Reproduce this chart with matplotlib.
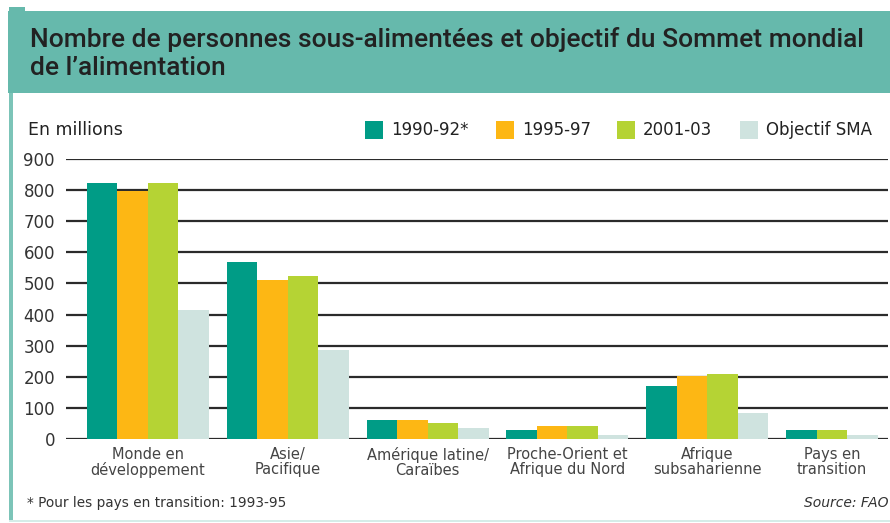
import numpy as np
import matplotlib
matplotlib.use("Agg")
import matplotlib.pyplot as plt
from matplotlib.patches import Rectangle

categories = ["Monde en\ndéveloppement", "Asie/\nPacifique", "Amérique latine/\nCaraïbes",
              "Proche-Orient et\nAfrique du Nord", "Afrique\nsubsaharienne", "Pays en\ntransition"]
series_names = ["1990-92*", "1995-97", "2001-03", "Objectif SMA"]
v_1990 = [822, 570, 61, 29, 170, 28]
v_1995 = [797, 511, 60, 42, 203, np.nan]
v_2001 = [822, 525, 52, 42, 209, 28]
v_sma = [415, 286, 34, 14, 85, 14]
yticks = [0, 100, 200, 300, 400, 500, 600, 700, 800, 900]

colors = ["#009c86", "#fdb714", "#b5d334", "#cfe3df"]
band = "#66b9ac"

plt.rcParams["font.family"] = ["DejaVu Sans"]

W, H = 890, 523
fig = plt.figure(figsize=(W / 100, H / 100), dpi=100)

def fx(px):
    return px / W

def fy(py):
    return 1 - py / H

# frame
fig.patches.append(Rectangle((fx(8), fy(93)), fx(882), (93 - 11) / H, transform=fig.transFigure,
                             facecolor=band, edgecolor="none"))
fig.patches.append(Rectangle((fx(9), fy(11)), fx(16), 4 / H, transform=fig.transFigure,
                             facecolor=band, edgecolor="none"))
fig.patches.append(Rectangle((fx(9), fy(522)), fx(4), (522 - 93) / H, transform=fig.transFigure,
                             facecolor="#7cc4b8", edgecolor="none"))
fig.patches.append(Rectangle((fx(9), fy(522)), fx(881), 2 / H, transform=fig.transFigure,
                             facecolor="#d5ece8", edgecolor="none"))

fig.text(fx(30), fy(40), "Nombre de personnes sous-alimentées et objectif du Sommet mondial",
         fontsize=19, color="#222222", va="center", ha="left", fontweight="medium",
         family=["Roboto", "DejaVu Sans"])
fig.text(fx(30), fy(68), "de l\u2019alimentation",
         fontsize=19, color="#222222", va="center", ha="left", fontweight="medium",
         family=["Roboto", "DejaVu Sans"])

# axes
left, right, top, bottom = 66, 888, 159, 439
ax = fig.add_axes([fx(left), fy(bottom), fx(right - left), (bottom - top) / H])
ax.set_ylim(0, 900)
ax.set_xlim(-0.586, 5.293)
ax.set_yticks(yticks)
ax.set_yticklabels([str(t) for t in yticks], fontsize=12, color="#333333")
ax.tick_params(axis="y", length=0, pad=8)
ax.tick_params(axis="x", length=0, pad=6)
for s in ax.spines.values():
    s.set_visible(False)
ax.set_axisbelow(True)
ax.yaxis.grid(True, color="#2b2b2b", linewidth=1.6)
ax.set_facecolor("none")

bw = 0.218
data = [v_1990, v_1995, v_2001, v_sma]
label_pos = []
for i in range(len(categories)):
    slot = 0
    xs = []
    for k, vals in enumerate(data):
        v = vals[i]
        if np.isnan(v):
            continue
        x = i - 1.5 * bw + slot * bw
        ax.bar(x, v, width=bw, color=colors[k], linewidth=0, zorder=2)
        xs.append(x)
        slot += 1
    label_pos.append(np.mean(xs))
ax.set_xticks(label_pos)
ax.set_xticklabels(categories, fontsize=10.5, color="#444444", linespacing=1.0)

# legend and labels
fig.text(fx(28), fy(130), "En millions", fontsize=12.5, color="#222222", va="center", ha="left")
leg_x = [365, 496, 617, 740]
for k, name in enumerate(series_names):
    fig.patches.append(Rectangle((fx(leg_x[k]), fy(139)), fx(18), 18 / H, transform=fig.transFigure,
                                 facecolor=colors[k], edgecolor="none"))
    fig.text(fx(leg_x[k] + 26), fy(130), name, fontsize=12, color="#222222", va="center", ha="left")

fig.text(fx(27), fy(503), "* Pour les pays en transition: 1993-95", fontsize=9.8, color="#333333",
         va="center", ha="left")
fig.text(fx(888), fy(503), "Source: FAO", fontsize=10, color="#333333", va="center", ha="right",
         style="italic")

fig.savefig("out.png", dpi=100, facecolor="white")
